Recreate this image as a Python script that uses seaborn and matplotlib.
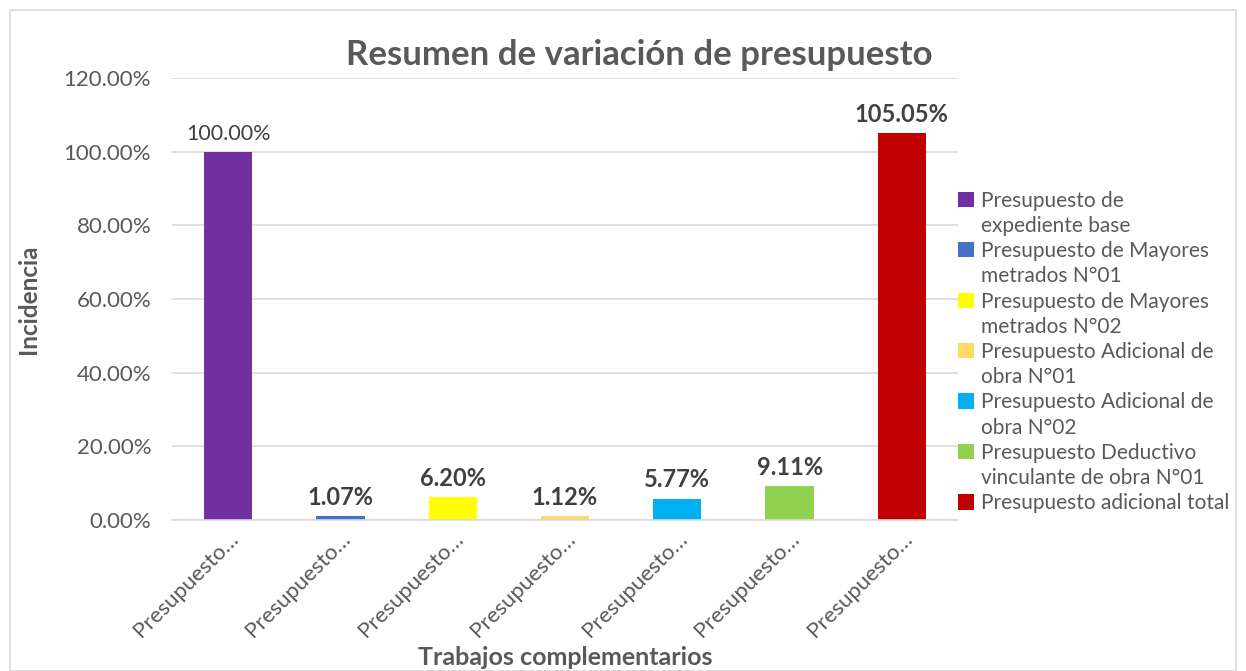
import matplotlib
matplotlib.use("Agg")
import matplotlib.pyplot as plt
import seaborn as sns
import pandas as pd
from matplotlib.patches import Rectangle, Patch
from matplotlib.ticker import FuncFormatter

categories = [
    "Presupuesto de\nexpediente base",
    "Presupuesto de Mayores\nmetrados N°01",
    "Presupuesto de Mayores\nmetrados N°02",
    "Presupuesto Adicional de\nobra N°01",
    "Presupuesto Adicional de\nobra N°02",
    "Presupuesto Deductivo\nvinculante de obra N°01",
    "Presupuesto adicional total",
]
values = [100.00, 1.07, 6.20, 1.12, 5.77, 9.11, 105.05]
value_labels = ["100.00%", "1.07%", "6.20%", "1.12%", "5.77%", "9.11%", "105.05%"]
tick_labels = ["Presupuesto…"] * 7
colors = ["#7030A0", "#4472C4", "#FFFF00", "#FFD966", "#00B0F0", "#92D050", "#C00000"]

df = pd.DataFrame({"cat": categories, "val": values})

sns.set_style("white")
plt.rcParams["font.family"] = ["Lato", "DejaVu Sans"]
txt = "#595959"

fig = plt.figure(figsize=(12.46, 6.71), dpi=100)
fig.patches.append(Rectangle((10 / 1246, 0.0), 1 - 20 / 1246, 1 - 10 / 671,
                             transform=fig.transFigure, fill=False,
                             edgecolor="#D9D9D9", linewidth=1.2))
ax = fig.add_axes([172 / 1246, 1 - 520 / 671, (958 - 172) / 1246, (520 - 78) / 671])

sns.barplot(data=df, x="cat", y="val", hue="cat", palette=colors, dodge=False,
            width=0.43, saturation=1, linewidth=0, ax=ax, legend=False)

ax.set_ylim(0, 120)
ax.set_yticks([0, 20, 40, 60, 80, 100, 120])
ax.yaxis.set_major_formatter(FuncFormatter(lambda v, p: f"{v:.2f}%"))
ax.grid(axis="y", color="#D9D9D9", linewidth=1.2)
ax.set_axisbelow(True)
for s in ["top", "right", "left"]:
    ax.spines[s].set_visible(False)
ax.spines["bottom"].set_color("#D9D9D9")
ax.spines["bottom"].set_linewidth(1.2)
ax.tick_params(axis="both", length=0, colors=txt, labelsize=16)
ax.set_xticks(range(len(categories)))
ax.set_xticklabels(tick_labels, rotation=45, ha="right", rotation_mode="anchor",
                   fontsize=16, color=txt)
ax.tick_params(axis="y", pad=15)
ax.tick_params(axis="x", pad=6)

for i, (v, lab) in enumerate(zip(values, value_labels)):
    if i == 0:
        ax.text(i, v + 2.0, lab, ha="center", va="bottom", fontsize=15.5,
                fontweight="normal", color="#404040")
    else:
        ax.text(i, v + 2.0, lab, ha="center", va="bottom", fontsize=17,
                fontweight="bold", color="#404040")

ax.set_xlabel("Trabajos complementarios", fontsize=18, fontweight="bold", color=txt)
ax.xaxis.set_label_coords(0.5, -0.285)
ax.set_ylabel("Incidencia", fontsize=17.5, fontweight="bold", color=txt)
ax.yaxis.set_label_coords(-0.168, 0.5)
fig.text(0.5 + 0.013, 1 - 55 / 671, "Resumen de variación de presupuesto",
         ha="center", va="center", fontsize=25, fontweight="bold", color=txt)

# legend: square aligned with first line of each entry
handles, labels = [], []
for c, cat in zip(colors, categories):
    lines = cat.split("\n")
    handles.append(Patch(facecolor=c, edgecolor="none"))
    labels.append(lines[0])
    for extra in lines[1:]:
        handles.append(Patch(facecolor="none", edgecolor="none"))
        labels.append(extra)
leg = ax.legend(handles, labels, loc="upper left", bbox_to_anchor=(1.0, 0.745),
                frameon=False, fontsize=15, labelcolor=txt, handlelength=0.75,
                handleheight=0.75, handletextpad=0.35, labelspacing=0.25,
                borderaxespad=0, borderpad=0)

fig.savefig("out.png", dpi=100)
